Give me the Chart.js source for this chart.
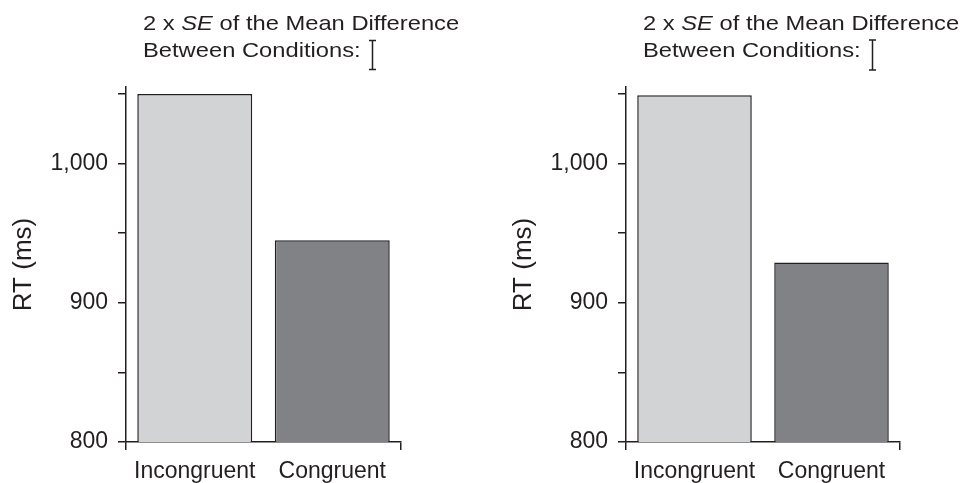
<!DOCTYPE html>
<html>
<head>
<meta charset="utf-8">
<script src="https://cdn.jsdelivr.net/npm/chart.js@4.4.1/dist/chart.umd.min.js"></script>
<style>
  html, body { margin: 0; padding: 0; background: #fff; }
  #wrap { position: relative; width: 966px; height: 483px; }
  canvas { position: absolute; top: 0; }
</style>
</head>
<body>
<div id="wrap">
  <canvas id="left" width="483" height="483" style="left:0"></canvas>
  <canvas id="right" width="483" height="483" style="left:483px"></canvas>
</div>
<script>
const categories = ["Incongruent", "Congruent"];
const leftRT = [1050, 945];
const rightRT = [1049, 929];
const barColors = ["#d1d3d4", "#808285"];
const yTicks = [800, 850, 900, 950, 1000, 1050];
const yLabelled = [800, 900, 1000];
const twoSE = [21, 21.5];          // 2 x SE of the mean difference, ms
const noteLine1 = ["2 x ", "SE", " of the Mean Difference"];
const noteLine2 = "Between Conditions:";

const INK = "#231f20";
const FONT = "'Liberation Sans', Arial, Helvetica, sans-serif";

// annotation text + the little SE bar, drawn in data units through the y scale
const notePlugin = {
  id: "note",
  afterDraw(chart, args, opts) {
    const { ctx, chartArea, scales } = chart;
    ctx.save();
    ctx.fillStyle = INK;
    ctx.textBaseline = "alphabetic";
    ctx.translate(chartArea.left + 17, 0);
    ctx.scale(1.13, 1);
    let x = 0;
    noteLine1.forEach((seg, i) => {
      ctx.font = (i === 1 ? "italic " : "") + "21px " + FONT;
      ctx.fillText(seg, x, 30);
      x += ctx.measureText(seg).width;
    });
    ctx.font = "21px " + FONT;
    ctx.fillText(noteLine2, 0, 57);
    ctx.restore();

    const len = scales.y.getPixelForValue(800) - scales.y.getPixelForValue(800 + opts.se);
    const bx = Math.round(chartArea.left + 246) + 0.5, cy = 55;
    const t = cy - len / 2, b = cy + len / 2;
    ctx.save();
    ctx.strokeStyle = INK;
    ctx.lineWidth = 1.5;
    ctx.beginPath();
    ctx.moveTo(bx, t); ctx.lineTo(bx, b);
    ctx.moveTo(bx - 3.5, t); ctx.lineTo(bx + 3.5, t);
    ctx.moveTo(bx - 3.5, b); ctx.lineTo(bx + 3.5, b);
    ctx.stroke();
    ctx.restore();
  }
};

function makeChart(id, values, se, padLeft, padRight) {
  return new Chart(document.getElementById(id), {
    type: "bar",
    data: {
      labels: categories,
      datasets: [{
        data: values,
        backgroundColor: barColors,
        borderColor: INK,
        borderWidth: 1.5,
        borderSkipped: false,
        barPercentage: 0.836,
        categoryPercentage: 1
      }]
    },
    options: {
      responsive: false,
      devicePixelRatio: 1,
      animation: false,
      layout: { padding: { top: 87, left: padLeft, right: padRight, bottom: 0 } },
      plugins: { legend: { display: false }, tooltip: { enabled: false }, note: { se } },
      scales: {
        x: {
          offset: true,
          grid: {
            offset: true,
            drawOnChartArea: false,
            drawTicks: true,
            tickLength: 8,
            lineWidth: 1.5,
            color: (c) => c.index === 1 ? "rgba(0,0,0,0)" : INK
          },
          border: { display: true, color: INK, width: 1.5 },
          ticks: { color: INK, font: { family: FONT, size: 23 }, padding: 8, maxRotation: 0 },
          afterFit: (s) => { s.height = 41; }
        },
        y: {
          min: 800,
          max: 1055,
          grid: { drawOnChartArea: false, drawTicks: true, tickLength: 8, lineWidth: 1.5, color: INK },
          border: { display: true, color: INK, width: 1.5 },
          afterBuildTicks: (s) => { s.ticks = yTicks.map(v => ({ value: v })); },
          ticks: {
            autoSkip: false,
            color: INK,
            font: { family: FONT, size: 23 },
            padding: 10,
            callback: (v) => yLabelled.includes(v) ? v.toLocaleString("en-US") : ""
          },
          title: {
            display: true,
            text: "RT (ms)",
            color: INK,
            font: { family: FONT, size: 26 },
            padding: { top: 8, bottom: 0 }
          },
          afterFit: (s) => { s.width = 126; }
        }
      }
    },
    plugins: [notePlugin]
  });
}

makeChart("left", leftRT, twoSE[0], 0, 82);
makeChart("right", rightRT, twoSE[1], 17, 66);
</script>
</body>
</html>
